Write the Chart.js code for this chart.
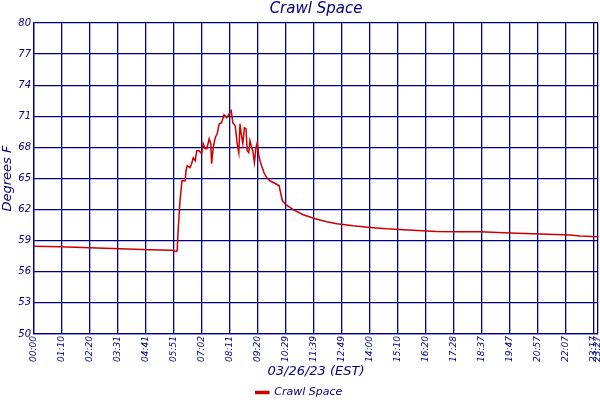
<!DOCTYPE html>
<html>
<head>
<meta charset="utf-8">
<script src="https://cdn.jsdelivr.net/npm/chart.js@4"></script>
<style>
  html, body { margin: 0; padding: 0; background: #fff; }
  #wrap { width: 600px; height: 400px; }
</style>
</head>
<body>
<div id="wrap"><canvas id="crawlChart"></canvas></div>
<script>
// sample position along the day (evenly spaced logger samples) and temperature
const samplePos = [0, 65, 140, 215, 290, 345, 355, 358, 360, 365, 370, 378, 380, 383, 390, 394, 398, 403, 407, 413,
  419, 423, 428, 432, 438, 442, 444, 448, 453, 458, 463, 469, 475, 482, 488, 493, 497, 503, 508, 512,
  515, 518, 522, 526, 530, 533, 537, 540, 543, 547, 551, 555, 558, 563, 565, 569, 575, 582, 590, 603,
  613, 617, 621, 630, 648, 673, 703, 732, 757, 798, 840, 882, 923, 1007, 1065, 1115, 1190, 1265, 1340, 1365, 1410];
const tempF = [58.47, 58.42, 58.32, 58.23, 58.13, 58.08, 57.97, 58.03, 59.77, 62.85, 64.78, 64.78, 65.75, 66.23, 66.04, 66.42, 67.0, 66.71, 67.68, 67.68,
  67.39, 68.35, 67.87, 67.87, 68.83, 68.35, 66.42, 67.97, 68.93, 69.31, 70.28, 70.38, 71.15, 70.86, 71.25, 71.54, 70.38, 70.09, 68.35, 67.49,
  70.28, 69.31, 68.35, 69.9, 69.8, 67.68, 67.49, 68.64, 68.16, 67.68, 66.52, 67.97, 68.45, 67.0, 66.71, 66.23, 65.55, 65.07, 64.78, 64.52,
  64.3, 63.53, 62.85, 62.47, 61.99, 61.5, 61.12, 60.83, 60.64, 60.44, 60.28, 60.15, 60.06, 59.89, 59.87, 59.87, 59.74, 59.64, 59.55, 59.45, 59.38];

const tickPos = [0, 70, 140, 210, 280, 350, 420, 490, 560, 630, 700, 770, 840, 910, 980, 1050, 1120, 1190, 1260, 1330, 1400, 1410];
const tickLabels = ['00:00', '01:10', '02:20', '03:31', '04:41', '05:51', '07:02', '08:11', '09:20', '10:29', '11:39',
  '12:49', '14:00', '15:10', '16:20', '17:28', '18:37', '19:47', '20:57', '22:07', '23:17', '23:27'];
const yTicks = [50, 53, 56, 59, 62, 65, 68, 71, 74, 77, 80];
const chartTitle = 'Crawl Space';

const navy = '#000080';
const fam = '"DejaVu Sans", Verdana, sans-serif';

// title centred over the plot area rather than the whole canvas
const plotTitle = {
  id: 'plotTitle',
  afterDraw(chart) {
    const { ctx, chartArea } = chart;
    ctx.save();
    ctx.fillStyle = navy;
    ctx.font = 'italic 15px ' + fam;
    ctx.textAlign = 'center';
    ctx.textBaseline = 'middle';
    ctx.fillText(chartTitle, (chartArea.left + chartArea.right) / 2, 9);
    ctx.restore();
  }
};

new Chart(document.getElementById('crawlChart'), {
  type: 'line',
  data: {
    datasets: [{
      label: 'Crawl Space',
      data: samplePos.map((p, i) => ({ x: p, y: tempF[i] })),
      borderColor: '#cc0000',
      backgroundColor: '#cc0000',
      borderWidth: 1.5,
      pointRadius: 0,
      tension: 0
    }]
  },
  options: {
    responsive: true,
    maintainAspectRatio: false,
    animation: false,
    layout: { padding: { left: 0, right: 2, top: 23, bottom: -8 } },
    plugins: {
      legend: {
        position: 'bottom',
        labels: {
          color: navy,
          font: { family: fam, size: 11, style: 'italic' },
          boxWidth: 13,
          boxHeight: 2,
          padding: 2
        }
      },
      tooltip: { enabled: false }
    },
    scales: {
      x: {
        type: 'linear',
        min: 0,
        max: 1410,
        afterBuildTicks: (scale) => { scale.ticks = tickPos.map(v => ({ value: v })); },
        afterFit: (scale) => { scale.height = 51; scale.paddingLeft = 0; scale.paddingRight = 0; },
        ticks: {
          autoSkip: false,
          minRotation: 90,
          maxRotation: 90,
          padding: 2,
          color: navy,
          font: { family: fam, size: 9, style: 'italic' },
          callback: (v, i) => tickLabels[i]
        },
        grid: { color: navy, lineWidth: 1.3, drawTicks: false },
        border: { color: navy, width: 1.3 },
        title: {
          display: true,
          text: '03/26/23 (EST)',
          color: navy,
          font: { family: fam, size: 13, style: 'italic' },
          padding: { top: 2, bottom: 6 }
        }
      },
      y: {
        min: 50,
        max: 80,
        afterBuildTicks: (scale) => { scale.ticks = yTicks.map(v => ({ value: v })); },
        afterFit: (scale) => { scale.width = 34; scale.paddingTop = 0; scale.paddingBottom = 0; },
        ticks: {
          padding: 3,
          color: navy,
          font: { family: fam, size: 10, style: 'italic' }
        },
        grid: { color: navy, lineWidth: 1.3, drawTicks: false },
        border: { color: navy, width: 1.3 },
        title: {
          display: true,
          text: 'Degrees F',
          color: navy,
          font: { family: fam, size: 13, style: 'italic' },
          padding: { top: 0, bottom: 0 }
        }
      }
    }
  },
  plugins: [plotTitle]
});
</script>
</body>
</html>
